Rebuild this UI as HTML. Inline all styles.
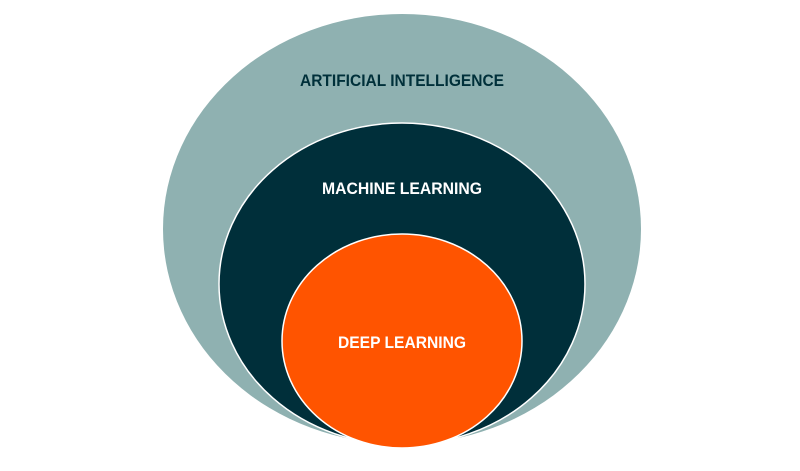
<!DOCTYPE html>
<html><head><style>body{margin:0;background:#fff}svg{display:block}</style></head><body>
<svg width="800" height="471" viewBox="0 0 800 471" xmlns="http://www.w3.org/2000/svg" font-family="Liberation Sans, sans-serif" font-weight="bold">
<ellipse cx="402" cy="229" rx="239" ry="215" fill="#8fb1b1"/>
<ellipse cx="402" cy="284" rx="183" ry="161" fill="#002f3a" stroke="#fff" stroke-width="1.5"/>
<ellipse cx="402" cy="341" rx="120" ry="107" fill="#ff5400" stroke="#fff" stroke-width="1.5"/>
<text x="402" y="86" text-anchor="middle" font-size="17" fill="#00303a" textLength="204" lengthAdjust="spacingAndGlyphs">ARTIFICIAL INTELLIGENCE</text>
<text x="402" y="194" text-anchor="middle" font-size="17" fill="#fff" textLength="160" lengthAdjust="spacingAndGlyphs">MACHINE LEARNING</text>
<text x="402" y="348" text-anchor="middle" font-size="17" fill="#fff" textLength="128" lengthAdjust="spacingAndGlyphs">DEEP LEARNING</text>
</svg>
</body></html>
